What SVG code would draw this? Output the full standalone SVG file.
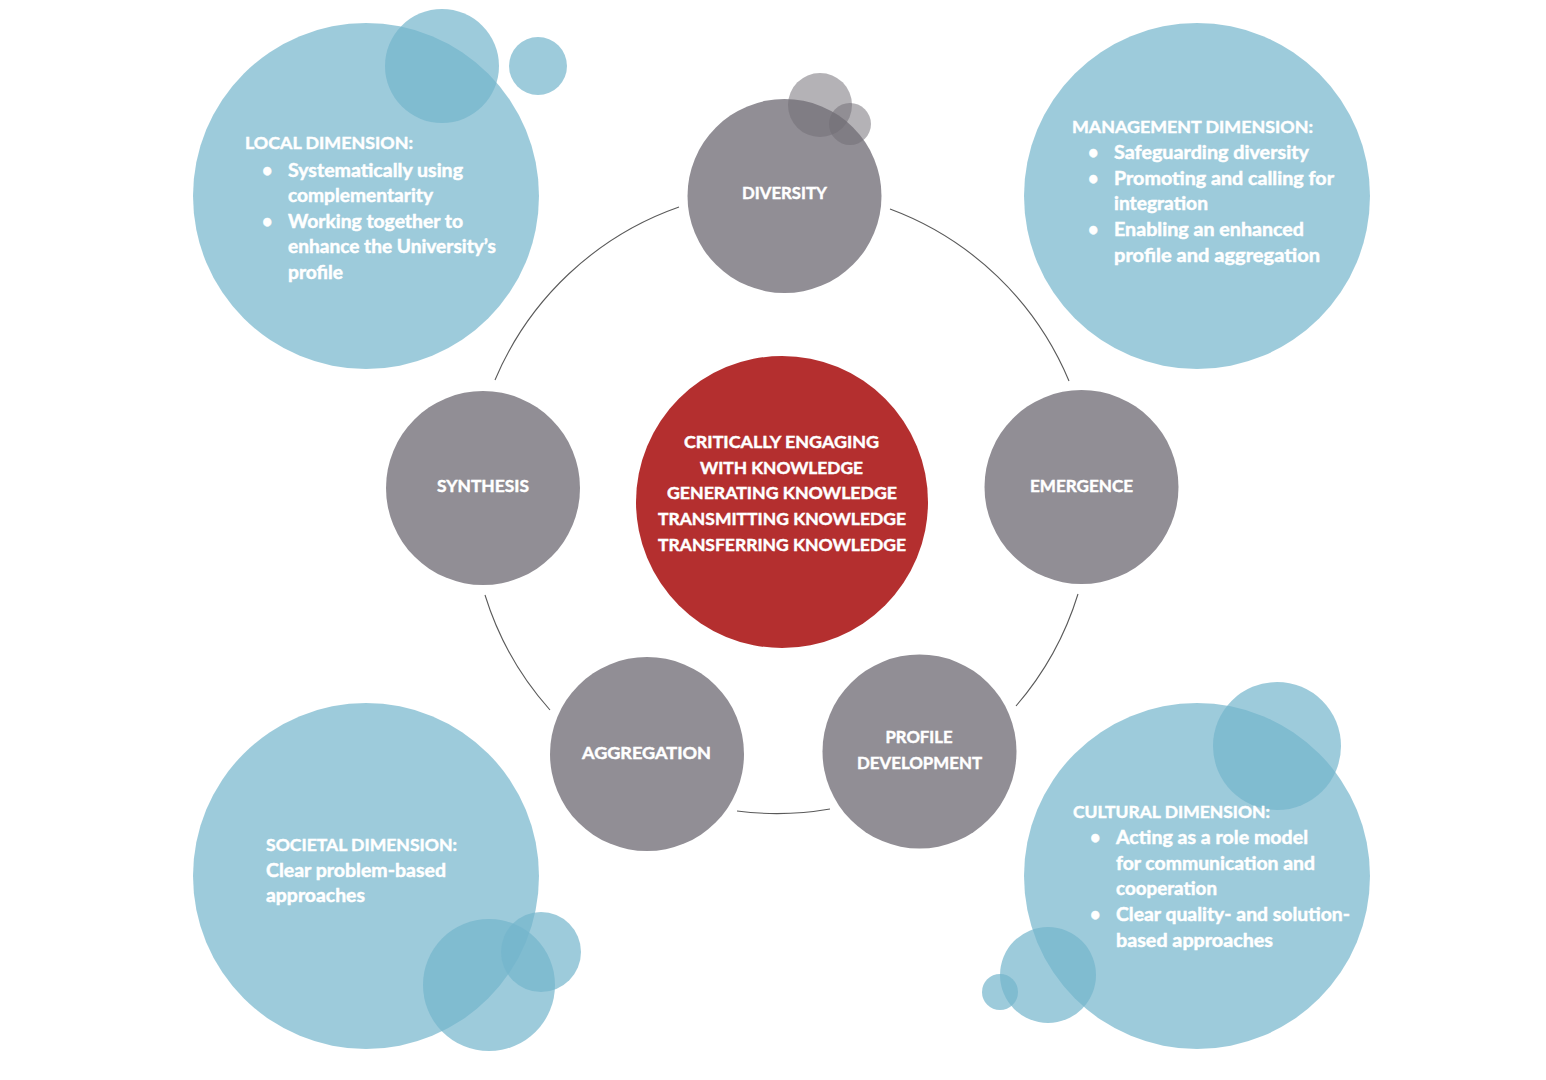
<svg xmlns="http://www.w3.org/2000/svg" width="1546" height="1080" viewBox="0 0 1546 1080">
  <style>
    .blue { fill: rgb(116,181,204); fill-opacity: 0.7; }
    .gray { fill: #918e95; }
    .gray-s { fill: rgb(113,110,118); fill-opacity: 0.53; }
    .red { fill: #b42f2f; }
    .t { font-family: Lato, "Open Sans", "Liberation Sans", sans-serif; font-weight: 700; fill: #ffffff; stroke: #ffffff; stroke-width: 0.45; font-size: 18px; }
    .cap { font-size: 17.5px; }
    .mid { text-anchor: middle; }
    .ring { fill: none; stroke: #5a5a5a; stroke-width: 1.1; }
  </style>
  <rect width="1546" height="1080" fill="#ffffff"/>

  <g id="connectors">
    <path class="ring" d="M495,380 A311.5,311.5 0 0 1 679,207"/>
    <path class="ring" d="M890,209 A311.5,311.5 0 0 1 1069,381"/>
    <path class="ring" d="M1078,594 A311.5,311.5 0 0 1 1016,706"/>
    <path class="ring" d="M830,809 A311.5,311.5 0 0 1 737,811"/>
    <path class="ring" d="M550,710 A311.5,311.5 0 0 1 485,595"/>
  </g>

  <g id="local-dimension">
    <circle class="blue" cx="366" cy="196" r="173"/>
    <circle class="blue" cx="442" cy="66" r="57"/>
    <circle class="blue" cx="538" cy="66" r="29"/>
    <text class="t cap" x="245" y="149" textLength="168" lengthAdjust="spacingAndGlyphs">LOCAL DIMENSION:</text>
    <text class="t" x="262" y="177">•</text>
    <text class="t" x="288" y="177" textLength="175" lengthAdjust="spacingAndGlyphs">Systematically using</text>
    <text class="t" x="288" y="202" textLength="145" lengthAdjust="spacingAndGlyphs">complementarity</text>
    <text class="t" x="262" y="228">•</text>
    <text class="t" x="288" y="228" textLength="175" lengthAdjust="spacingAndGlyphs">Working together to</text>
    <text class="t" x="288" y="253" textLength="208" lengthAdjust="spacingAndGlyphs">enhance the University’s</text>
    <text class="t" x="288" y="279" textLength="55" lengthAdjust="spacingAndGlyphs">profile</text>
  </g>

  <g id="management-dimension">
    <circle class="blue" cx="1197" cy="196" r="173"/>
    <text class="t cap" x="1072" y="133" textLength="241" lengthAdjust="spacingAndGlyphs">MANAGEMENT DIMENSION:</text>
    <text class="t" x="1088" y="158.5">•</text>
    <text class="t" x="1114" y="158.5" textLength="195" lengthAdjust="spacingAndGlyphs">Safeguarding diversity</text>
    <text class="t" x="1088" y="184.5">•</text>
    <text class="t" x="1114" y="184.5" textLength="220" lengthAdjust="spacingAndGlyphs">Promoting and calling for</text>
    <text class="t" x="1114" y="210" textLength="94" lengthAdjust="spacingAndGlyphs">integration</text>
    <text class="t" x="1088" y="236">•</text>
    <text class="t" x="1114" y="236" textLength="190" lengthAdjust="spacingAndGlyphs">Enabling an enhanced</text>
    <text class="t" x="1114" y="261.5" textLength="206" lengthAdjust="spacingAndGlyphs">profile and aggregation</text>
  </g>

  <g id="societal-dimension">
    <circle class="blue" cx="366" cy="876" r="173"/>
    <circle class="blue" cx="489" cy="985" r="66"/>
    <circle class="blue" cx="541" cy="952" r="40"/>
    <text class="t cap" x="266" y="851" textLength="191" lengthAdjust="spacingAndGlyphs">SOCIETAL DIMENSION:</text>
    <text class="t" x="266" y="877" textLength="180" lengthAdjust="spacingAndGlyphs">Clear problem-based</text>
    <text class="t" x="266" y="902" textLength="99" lengthAdjust="spacingAndGlyphs">approaches</text>
  </g>

  <g id="cultural-dimension">
    <circle class="blue" cx="1197" cy="876" r="173"/>
    <circle class="blue" cx="1277" cy="746" r="64"/>
    <circle class="blue" cx="1048" cy="975" r="48"/>
    <circle class="blue" cx="1000" cy="992" r="18"/>
    <text class="t cap" x="1073" y="818" textLength="197" lengthAdjust="spacingAndGlyphs">CULTURAL DIMENSION:</text>
    <text class="t" x="1090" y="843.5">•</text>
    <text class="t" x="1116" y="843.5" textLength="192" lengthAdjust="spacingAndGlyphs">Acting as a role model</text>
    <text class="t" x="1116" y="869.5" textLength="199" lengthAdjust="spacingAndGlyphs">for communication and</text>
    <text class="t" x="1116" y="895" textLength="101" lengthAdjust="spacingAndGlyphs">cooperation</text>
    <text class="t" x="1090" y="921">•</text>
    <text class="t" x="1116" y="921" textLength="234" lengthAdjust="spacingAndGlyphs">Clear quality- and solution-</text>
    <text class="t" x="1116" y="947" textLength="157" lengthAdjust="spacingAndGlyphs">based approaches</text>
  </g>

  <g id="diversity">
    <circle class="gray" cx="784.5" cy="196" r="97"/>
    <circle class="gray-s" cx="820" cy="105" r="32"/>
    <circle class="gray-s" cx="850" cy="124" r="21"/>
    <text class="t cap mid" x="784.5" y="199" textLength="85" lengthAdjust="spacingAndGlyphs">DIVERSITY</text>
  </g>

  <g id="synthesis">
    <circle class="gray" cx="483" cy="488" r="97"/>
    <text class="t cap mid" x="483" y="492" textLength="92" lengthAdjust="spacingAndGlyphs">SYNTHESIS</text>
  </g>

  <g id="emergence">
    <circle class="gray" cx="1081.5" cy="487" r="97"/>
    <text class="t cap mid" x="1081.5" y="492" textLength="103" lengthAdjust="spacingAndGlyphs">EMERGENCE</text>
  </g>

  <g id="aggregation">
    <circle class="gray" cx="647" cy="754" r="97"/>
    <text class="t cap mid" x="646.5" y="758.5" textLength="129" lengthAdjust="spacingAndGlyphs">AGGREGATION</text>
  </g>

  <g id="profile-development">
    <circle class="gray" cx="919.5" cy="751.5" r="97"/>
    <text class="t cap mid" x="919" y="743" textLength="67" lengthAdjust="spacingAndGlyphs">PROFILE</text>
    <text class="t cap mid" x="919.5" y="768.5" textLength="125" lengthAdjust="spacingAndGlyphs">DEVELOPMENT</text>
  </g>

  <g id="knowledge-core">
    <circle class="red" cx="782" cy="502" r="146"/>
    <text class="t cap mid" x="781.5" y="448" textLength="195" lengthAdjust="spacingAndGlyphs">CRITICALLY ENGAGING</text>
    <text class="t cap mid" x="781.5" y="474" textLength="163" lengthAdjust="spacingAndGlyphs">WITH KNOWLEDGE</text>
    <text class="t cap mid" x="782" y="499" textLength="230" lengthAdjust="spacingAndGlyphs">GENERATING KNOWLEDGE</text>
    <text class="t cap mid" x="782" y="525" textLength="248" lengthAdjust="spacingAndGlyphs">TRANSMITTING KNOWLEDGE</text>
    <text class="t cap mid" x="782" y="551" textLength="248" lengthAdjust="spacingAndGlyphs">TRANSFERRING KNOWLEDGE</text>
  </g>
</svg>
